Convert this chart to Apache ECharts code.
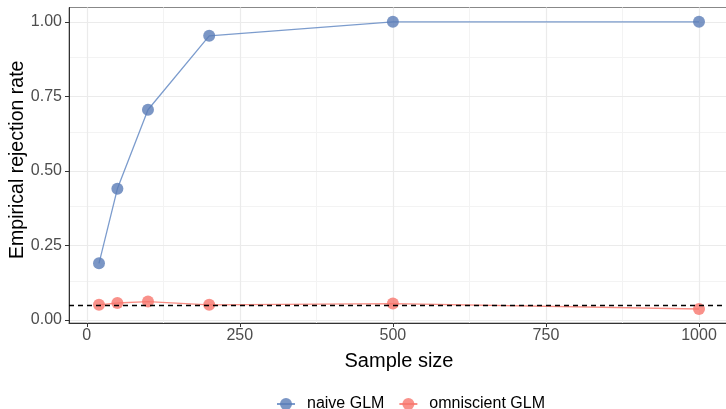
<!DOCTYPE html>
<html><head><meta charset="utf-8">
<script src="https://cdn.jsdelivr.net/npm/echarts@6/dist/echarts.min.js"></script>
<style>html,body{margin:0;padding:0;background:#fff}#c{width:726px;height:409px}</style>
</head><body><div id="c"></div>
<script>
const sampleSizes = [20, 50, 100, 200, 500, 1000];
const naiveGLM = [0.19, 0.44, 0.705, 0.953, 1.0, 1.0];
const omniscientGLM = [0.051, 0.057, 0.062, 0.051, 0.055, 0.037];
const nominalLevel = 0.05;
const xTicks = [0, 250, 500, 750, 1000];
const xMinor = [125, 375, 625, 875];
const yTicks = [0, 0.25, 0.5, 0.75, 1.0];
const yMinor = [0.125, 0.375, 0.625, 0.875];
const yLabels = ['0.00', '0.25', '0.50', '0.75', '1.00'];

const font = 'Liberation Sans, Arial, Helvetica, sans-serif';
const chart = echarts.init(document.getElementById('c'), null, {renderer: 'canvas'});

const gridLines = [];
xMinor.forEach(v => gridLines.push({xAxis: v, lineStyle: {color: '#F3F3F3', width: 1, type: 'solid'}}));
yMinor.forEach(v => gridLines.push({yAxis: v, lineStyle: {color: '#F3F3F3', width: 1, type: 'solid'}}));
xTicks.forEach(v => gridLines.push({xAxis: v, lineStyle: {color: '#EBEBEB', width: 1.2, type: 'solid'}}));
yTicks.forEach(v => gridLines.push({yAxis: v, lineStyle: {color: '#EBEBEB', width: 1.2, type: 'solid'}}));

chart.setOption({
  animation: false,
  grid: {left: 69, top: 7.5, width: 660, height: 315.5, show: true, borderColor: '#888', borderWidth: 1,
    backgroundColor: '#fff', outerBoundsMode: 'none', containLabel: false},
  legend: {
    left: 271, top: 391,
    itemWidth: 18, itemHeight: 15, itemGap: 14,
    textStyle: {fontFamily: font, fontSize: 16, color: '#000', padding: [0, 0, 0, 7]},
    data: ['naive GLM', 'omniscient GLM']
  },
  xAxis: {
    type: 'value', min: -29, max: 1049, z: 4,
    name: 'Sample size', nameLocation: 'middle', nameGap: 28, nameMoveOverlap: false,
    nameTextStyle: {fontFamily: font, fontSize: 20, color: '#000'},
    axisLine: {show: true, onZero: false, lineStyle: {color: '#333', width: 1}},
    axisTick: {show: true, customValues: xTicks, length: 4, lineStyle: {color: '#333'}},
    axisLabel: {customValues: xTicks, fontFamily: font, fontSize: 16, color: '#4D4D4D', margin: 5,
      formatter: v => String(v)},
    splitLine: {show: false}
  },
  yAxis: {
    type: 'value', min: -0.01, max: 1.048, z: 4,
    name: 'Empirical rejection rate', nameLocation: 'middle', nameGap: 41, nameMoveOverlap: false,
    nameTextStyle: {fontFamily: font, fontSize: 19.5, color: '#000', padding: [0, 0, 0, 11]},
    axisLine: {show: true, onZero: false, lineStyle: {color: '#333', width: 1}},
    axisTick: {show: true, customValues: yTicks, length: 4, lineStyle: {color: '#333'}},
    axisLabel: {customValues: yTicks, fontFamily: font, fontSize: 16, color: '#4D4D4D', margin: 7,
      formatter: v => { const i = yTicks.indexOf(v); return i >= 0 ? yLabels[i] : v.toFixed(2); }},
    splitLine: {show: false}
  },
  series: [
    {
      name: 'grid', type: 'line', data: [], silent: true, z: 0,
      markLine: {silent: true, symbol: 'none', label: {show: false}, animation: false, z: 0, data: gridLines}
    },
    {
      name: 'naive GLM', type: 'line', z: 3,
      data: sampleSizes.map((x, i) => [x, naiveGLM[i]]),
      symbol: 'circle', symbolSize: 12,
      itemStyle: {color: 'rgba(90,124,182,0.8)'},
      lineStyle: {color: 'rgba(110,145,200,0.9)', width: 1.3}
    },
    {
      name: 'omniscient GLM', type: 'line', z: 3,
      data: sampleSizes.map((x, i) => [x, omniscientGLM[i]]),
      symbol: 'circle', symbolSize: 12,
      itemStyle: {color: 'rgba(248,118,109,0.8)'},
      lineStyle: {color: 'rgba(248,130,120,0.9)', width: 1.3},
      markLine: {silent: true, symbol: 'none', label: {show: false}, z: 5,
        lineStyle: {color: '#000', type: [5, 4], width: 1.3},
        data: [{yAxis: nominalLevel}]}
    }
  ]
});
</script></body></html>
